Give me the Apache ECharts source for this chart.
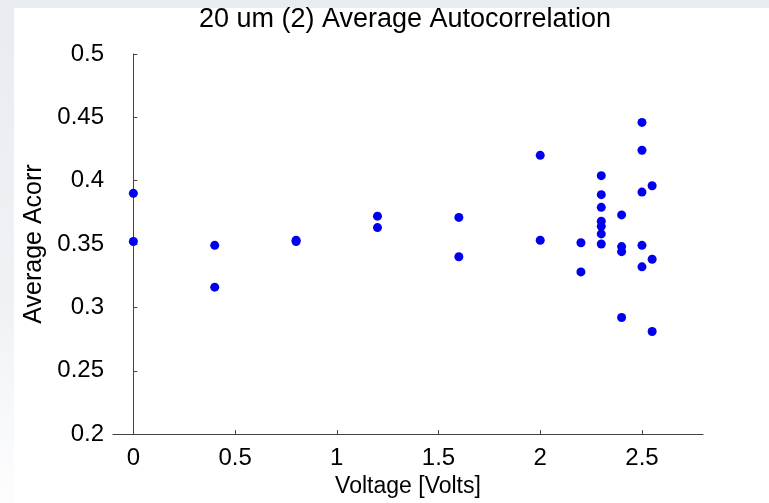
<!DOCTYPE html>
<html>
<head>
<meta charset="utf-8">
<script src="https://cdn.jsdelivr.net/npm/echarts@6/dist/echarts.min.js"></script>
<style>
html,body{margin:0;padding:0;background:#fff;}
#chart{width:769px;height:503px;}
</style>
</head>
<body>
<div id="chart"></div>
<script>
const titleText = '20 um (2) Average Autocorrelation';
const xName = 'Voltage [Volts]';
const yName = 'Average Acorr';
const xTicks = [0, 0.5, 1, 1.5, 2, 2.5];
const yTicks = [0.2, 0.25, 0.3, 0.35, 0.4, 0.45, 0.5];
const voltage = [0, 0, 0.4, 0.4, 0.8, 0.8, 1.2, 1.2, 1.6, 1.6, 2, 2, 2.2, 2.2,
  2.3, 2.3, 2.3, 2.3, 2.3, 2.3, 2.3, 2.4, 2.4, 2.4, 2.4,
  2.5, 2.5, 2.5, 2.5, 2.5, 2.55, 2.55, 2.55];
const acorr = [0.390, 0.352, 0.349, 0.316, 0.352, 0.353, 0.372, 0.363, 0.371, 0.340, 0.420, 0.353, 0.351, 0.328,
  0.404, 0.389, 0.379, 0.368, 0.364, 0.358, 0.350, 0.373, 0.348, 0.344, 0.292,
  0.446, 0.424, 0.391, 0.349, 0.332, 0.396, 0.338, 0.281];

const points = voltage.map((v, i) => [v, acorr[i]]);
const font = 'Liberation Sans, Arial, sans-serif';
const chart = echarts.init(document.getElementById('chart'), null, {renderer: 'canvas'});
chart.setOption({
  backgroundColor: '#ffffff',
  animation: false,
  graphic: [
    {type: 'rect', silent: true, z: -10, shape: {x: 0, y: 0, width: 769, height: 8}, style: {fill: '#e8ecf1'}},
    {type: 'rect', silent: true, z: -10, shape: {x: 0, y: 0, width: 14, height: 503},
      style: {fill: new echarts.graphic.LinearGradient(0, 0, 0, 1, [
        {offset: 0, color: '#e8ecf1'}, {offset: 0.6, color: '#eff2f5'}, {offset: 1, color: '#fdfdfe'}])}}
  ],
  title: {
    text: titleText,
    left: 405, top: 6, padding: 0, textAlign: 'center',
    textStyle: {fontFamily: font, fontSize: 27, fontWeight: 'normal', color: '#000'}
  },
  grid: {left: 113, right: 66, top: 54, bottom: 62, containLabel: false},
  xAxis: {
    type: 'value', min: -0.1, max: 2.8,
    name: xName, nameLocation: 'middle', nameGap: 36,
    nameTextStyle: {fontFamily: font, fontSize: 23, color: '#000'},
    splitLine: {show: false},
    axisLine: {show: true, onZero: false, lineStyle: {color: '#444', width: 1}},
    axisTick: {show: true, inside: true, length: 4, customValues: xTicks, lineStyle: {color: '#444'}},
    axisLabel: {customValues: xTicks, margin: 12, fontFamily: font, fontSize: 24, color: '#000',
      formatter: v => String(v)}
  },
  yAxis: {
    type: 'value', min: 0.2, max: 0.5,
    name: yName, nameLocation: 'middle', nameGap: 66, nameRotate: 90,
    nameTextStyle: {fontFamily: font, fontSize: 25, color: '#000'},
    splitLine: {show: false},
    axisLine: {show: true, lineStyle: {color: '#444', width: 1}},
    axisTick: {show: true, inside: true, length: 4, customValues: yTicks, lineStyle: {color: '#444'}},
    axisLabel: {customValues: yTicks, margin: 9, fontFamily: font, fontSize: 24, color: '#000',
      formatter: v => String(Math.round(v * 100) / 100)}
  },
  series: [{
    type: 'scatter',
    data: points,
    symbol: 'circle',
    symbolSize: 9,
    itemStyle: {color: '#0000ee', opacity: 1}
  }]
});
</script>
</body>
</html>
